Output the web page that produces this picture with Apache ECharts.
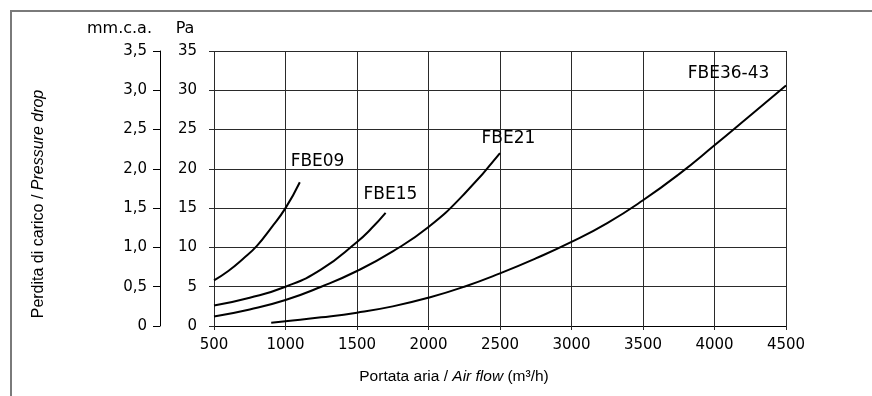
<!DOCTYPE html>
<html>
<head>
<meta charset="utf-8">
<script src="https://cdn.jsdelivr.net/npm/echarts@6/dist/echarts.min.js"></script>
<style>
html,body{margin:0;padding:0;background:#fff;}
#c{width:872px;height:396px;}
</style>
</head>
<body>
<div id="c"></div>
<script>
// Data (air flow m3/h, pressure drop Pa)
const fbe09 = [[500,5.8],[600,7.0],[700,8.5],[800,10.2],[900,12.5],[1000,15.0],[1100,18.3]];
const fbe15 = [[500,2.6],[750,3.6],[1000,5.0],[1250,7.2],[1500,10.7],[1600,12.4],[1700,14.4]];
const fbe21 = [[500,1.2],[750,2.1],[1000,3.3],[1250,5.0],[1500,7.0],[1750,9.5],[2000,12.6],[2250,16.8],[2500,22.0]];
const fbe36 = [[900,0.4],[1000,0.6],[1250,1.1],[1500,1.7],[1750,2.5],[2000,3.6],[2250,5.0],[2500,6.7],[2750,8.6],[3000,10.7],[3250,13.1],[3500,16.0],[3750,19.3],[4000,23.0],[4250,26.8],[4500,30.6]];
const seriesNames = ['FBE09','FBE15','FBE21','FBE36-43'];
const seriesData = [fbe09, fbe15, fbe21, fbe36];
// label anchor points (data units) for curve names
const labelAnchors = [[1224,20.95],[1734,16.75],[2559,23.9],[4098,32.1]];
const flowTicks = {min:500, max:4500, step:500};
const paTicks = {min:0, max:35, step:5};
const mmTicks = {min:0, max:3.5, step:0.5};

const chart = echarts.init(document.getElementById('c'), null, {renderer:'canvas'});
const tickFont = 'DejaVu Sans';
const narrow = '"Liberation Sans Narrow", "Liberation Sans", Arial, sans-serif';
const gridColor = '#2a2a2a';

const lineSeries = seriesData.map((d,i)=>({
  name: seriesNames[i],
  type:'line',
  data:d,
  smooth:0.5,
  showSymbol:false,
  symbol:'none',
  lineStyle:{color:'#000',width:2},
  silent:true,
  z:5
}));

const labelSeries = {
  type:'scatter',
  data: labelAnchors.map((p,i)=>({value:p, name:seriesNames[i]})),
  symbolSize:1,
  itemStyle:{color:'rgba(0,0,0,0)', opacity:1},
  label:{show:true, position:'inside', formatter:p=>p.name, color:'#000', opacity:1, fontSize:17, fontFamily:tickFont},
  silent:true,
  z:6
};

chart.setOption({
  animation:false,
  backgroundColor:'#fff',
  grid:{left:214, right:86, top:51, bottom:70, containLabel:false},
  xAxis:{
    type:'value', min:flowTicks.min, max:flowTicks.max, interval:flowTicks.step,
    axisLine:{show:true, lineStyle:{color:'#000', width:1}},
    axisTick:{show:true, inside:false, length:4, lineStyle:{color:gridColor}},
    axisLabel:{show:true, margin:12, color:'#000', fontSize:15, fontFamily:tickFont, formatter:v=>String(v)},
    splitLine:{show:true, lineStyle:{color:gridColor, width:1}}
  },
  yAxis:[
    {
      type:'value', position:'left', min:paTicks.min, max:paTicks.max, interval:paTicks.step,
      axisLine:{show:false},
      axisTick:{show:true, inside:false, length:5, lineStyle:{color:gridColor}},
      axisLabel:{show:true, margin:17, color:'#000', fontSize:15, fontFamily:tickFont, formatter:v=>String(v)},
      splitLine:{show:true, lineStyle:{color:gridColor, width:1}}
    },
    {
      type:'value', position:'left', offset:54, min:mmTicks.min, max:mmTicks.max, interval:mmTicks.step,
      axisLine:{show:true, lineStyle:{color:'#000', width:1}},
      axisTick:{show:true, inside:false, length:7, lineStyle:{color:'#000'}},
      axisLabel:{show:true, margin:13, color:'#000', fontSize:15, fontFamily:tickFont,
        formatter:v=> v===0 ? '0' : v.toFixed(1).replace('.',',')},
      splitLine:{show:false}
    }
  ],
  series: lineSeries.concat([labelSeries]),
  graphic:[
    {type:'rect', shape:{x:11, y:11, width:1000, height:1000}, style:{fill:'none', stroke:'#7a7a7a', lineWidth:2}, silent:true},
    {type:'text', x:152, y:29, style:{text:'mm.c.a.', fill:'#000', font:'16px "DejaVu Sans"', textAlign:'right', textVerticalAlign:'middle'}},
    {type:'text', x:185, y:29, style:{text:'Pa', fill:'#000', font:'16px "DejaVu Sans"', textAlign:'center', textVerticalAlign:'middle'}},
    {type:'text', x:38.5, y:204, rotation:Math.PI/2, style:{
      rich:{n:{fontFamily:narrow, fontSize:16, fill:'#000'}, i:{fontFamily:narrow, fontSize:16, fontStyle:'italic', fill:'#000'}},
      text:'{n|Perdita di carico / }{i|Pressure drop}', textAlign:'center', textVerticalAlign:'middle'}},
    {type:'text', x:454, y:377, style:{
      rich:{n:{fontFamily:narrow, fontSize:15.5, fill:'#000'}, i:{fontFamily:narrow, fontSize:15.5, fontStyle:'italic', fill:'#000'}},
      text:'{n|Portata aria / }{i|Air flow}{n| (m³/h)}', textAlign:'center', textVerticalAlign:'middle'}}
  ]
});
</script>
</body>
</html>
